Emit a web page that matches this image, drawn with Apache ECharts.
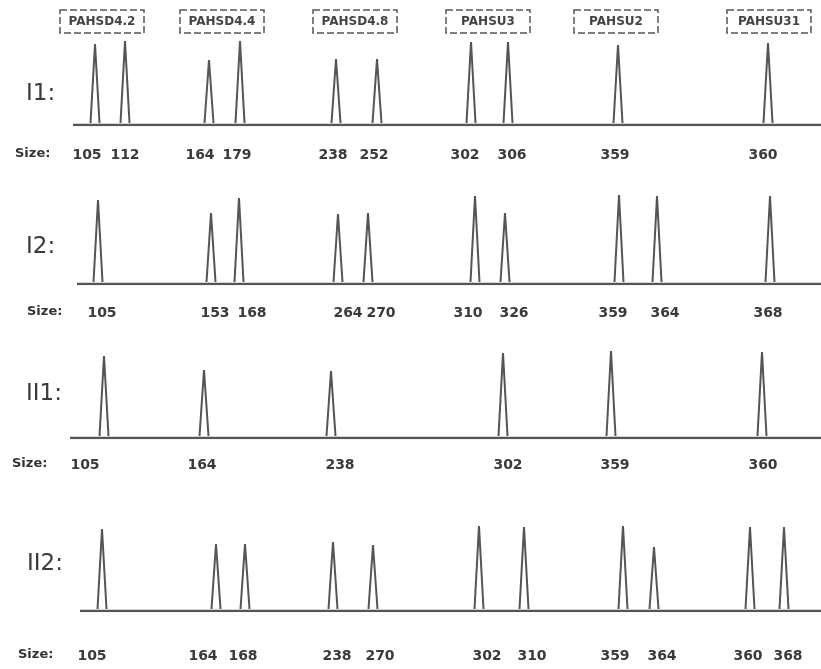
<!DOCTYPE html>
<html><head><meta charset="utf-8">
<script src="https://cdn.jsdelivr.net/npm/echarts@6/dist/echarts.min.js"></script>
<style>html,body{margin:0;padding:0;background:#fff}#c{width:821px;height:669px}</style>
</head><body><div id="c"></div>
<script>
// ---- data ----
const panelNames = ['I1:', 'I2:', 'II1:', 'II2:'];
const lociNames = ['PAHSD4.2', 'PAHSD4.4', 'PAHSD4.8', 'PAHSU3', 'PAHSU2', 'PAHSU31'];
const lociCenter = [102, 222, 355, 488, 616, 769];      // migration position of each locus window
const traceStart = [73, 77, 70, 80];                     // where each trace baseline begins
const traceEnd = 821;

// peak migration positions, allele sizes, peak heights (relative units)
const posI1  = [95, 125, 209, 240, 336, 377, 471, 508, 618, 768];
const sizeI1 = [105, 112, 164, 179, 238, 252, 302, 306, 359, 360];
const hI1    = [81, 84, 65, 84, 66, 66, 83, 83, 80, 82];

const posI2  = [98, 211, 239, 338, 368, 475, 505, 619, 657, 770];
const sizeI2 = [105, 153, 168, 264, 270, 310, 326, 359, 364, 368];
const hI2    = [84, 71, 86, 70, 71, 88, 71, 89, 88, 88];

const posII1  = [104, 204, 331, 503, 611, 762];
const sizeII1 = [105, 164, 238, 302, 359, 360];
const hII1    = [82, 68, 67, 85, 87, 86];

const posII2  = [102, 216, 245, 333, 373, 479, 524, 623, 654, 750, 784];
const sizeII2 = [105, 164, 168, 238, 270, 302, 310, 359, 364, 360, 368];
const hII2    = [82, 67, 67, 69, 66, 85, 84, 85, 64, 84, 84];

// where each size caption is printed along the trace (same units as positions)
const captionI1  = [87, 125, 200, 237, 333, 374, 465, 512, 615, 763];
const captionI2  = [102, 215, 252, 348, 381, 468, 514, 613, 665, 768];
const captionII1 = [85, 202, 340, 508, 615, 763];
const captionII2 = [92, 203, 243, 337, 380, 487, 532, 615, 662, 748, 788];

const panels = [
  { pos: posI1, size: sizeI1, h: hI1, cap: captionI1 },
  { pos: posI2, size: sizeI2, h: hI2, cap: captionI2 },
  { pos: posII1, size: sizeII1, h: hII1, cap: captionII1 },
  { pos: posII2, size: sizeII2, h: hII2, cap: captionII2 }
];

// ---- layout / style ----
const gridTops = [25, 184, 338, 511];
const gridH = 100;
const labelGap = [30, 29, 27, 45];
const nameY = [97, 250, 397, 567];
const nameX = [26, 26, 26, 27];
const sizeLblX = [15, 27, 12, 18];
const HALF = 4.5, LIFT = 2;
const INK = '#555';
const FONT = '"DejaVu Sans", Verdana, sans-serif';

const chart = echarts.init(document.getElementById('c'), null, { renderer: 'canvas' });

const grids = [], xAxes = [], yAxes = [], series = [];
panels.forEach((p, i) => {
  grids.push({ left: 0, right: 0, top: gridTops[i], height: gridH });
  xAxes.push({ type: 'value', gridIndex: i, min: 0, max: 821, show: false });
  yAxes.push({ type: 'value', gridIndex: i, min: 0, max: 100, show: false });
  series.push({
    type: 'line', xAxisIndex: i, yAxisIndex: i, showSymbol: false, silent: true,
    lineStyle: { color: INK, width: 2.5 },
    data: [[traceStart[i], 0], [traceEnd, 0]]
  });
  const gap = labelGap[i];
  series.push({
    type: 'custom', xAxisIndex: i, yAxisIndex: i, silent: true,
    data: p.pos.map((x, k) => [x, p.h[k], p.size[k], p.cap[k]]),
    encode: { x: 0, y: 1 },
    renderItem: function (params, api) {
      const x = api.value(0), h = api.value(1), s = api.value(2), c = api.value(3);
      const a = api.coord([x - HALF, LIFT]), t = api.coord([x, h]), b = api.coord([x + HALF, LIFT]);
      const base = api.coord([c, 0]);
      return {
        type: 'group',
        children: [
          { type: 'polyline', shape: { points: [a, t, b] },
            style: { stroke: INK, lineWidth: 2, fill: null, lineJoin: 'miter' } },
          { type: 'text', x: base[0], y: base[1] + gap,
            style: { text: String(s), fill: '#3a3a3a', font: 'bold 14px ' + FONT,
                     textAlign: 'center', textVerticalAlign: 'middle' } }
        ]
      };
    }
  });
});

chart.setOption({
  animation: false,
  backgroundColor: '#fff',
  grid: grids, xAxis: xAxes, yAxis: yAxes, series: series
});

// text and locus boxes
const graphics = [];
panelNames.forEach((n, i) => {
  graphics.push({ type: 'text', left: nameX[i], top: nameY[i] - 14,
    style: { text: n, fill: '#3a3a3a', font: '23px ' + FONT } });
  const by = chart.convertToPixel({ yAxisIndex: i }, 0) + labelGap[i];
  graphics.push({ type: 'text', left: sizeLblX[i], top: by - 8,
    style: { text: 'Size:', fill: '#333', font: 'bold 13px ' + FONT } });
});
lociNames.forEach((n, k) => {
  const cx = chart.convertToPixel({ xAxisIndex: 0 }, lociCenter[k]);
  graphics.push({ type: 'rect', shape: { x: cx - 42, y: 10, width: 84, height: 23 },
    style: { fill: 'none', stroke: '#555', lineWidth: 1.5, lineDash: [7, 3] } });
  graphics.push({ type: 'text', x: cx, y: 21.5,
    style: { text: n, fill: '#444', font: 'bold 12px ' + FONT,
             textAlign: 'center', textVerticalAlign: 'middle' } });
});
chart.setOption({ graphic: graphics });
</script>
</body></html>
